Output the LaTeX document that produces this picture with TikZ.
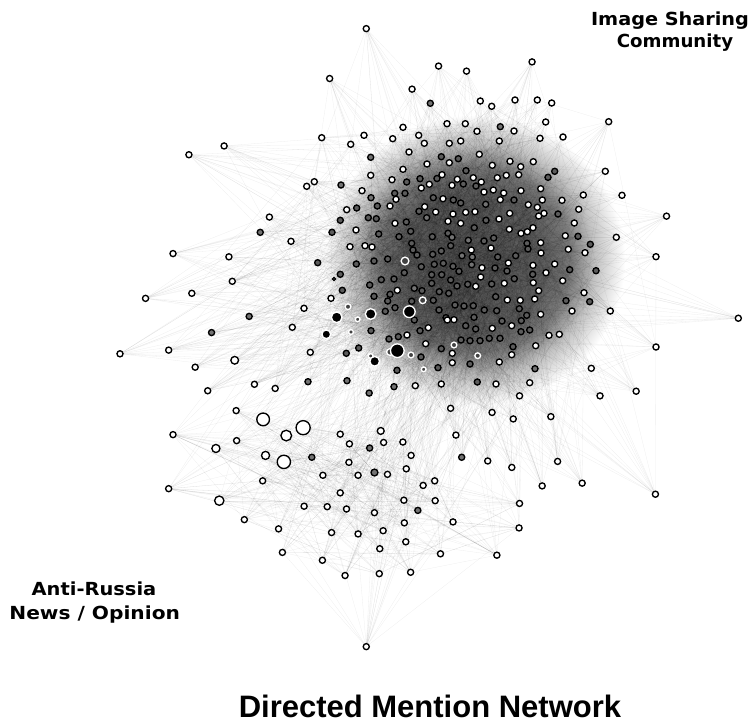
\documentclass[tikz,border=0pt]{standalone}
\usepackage{fontspec}
\newfontfamily\labfont{DejaVu Sans}
\newfontfamily\titfont{Liberation Sans}
\pgfdeclarelayer{shadelayer}
\pgfdeclarelayer{edgelayer}
\pgfsetlayers{shadelayer,edgelayer,main}
\definecolor{dfill}{gray}{0.36}
\definecolor{gfill}{gray}{0.45}
\definecolor{rfill}{gray}{0.26}
\pgfdeclareradialshading{coreshade}{\pgfpoint{0bp}{0bp}}{rgb(0bp)=(0.37,0.37,0.37); rgb(12bp)=(0.39,0.39,0.39); rgb(16bp)=(0.48,0.48,0.48); rgb(20bp)=(0.76,0.76,0.76); rgb(25bp)=(1,1,1); rgb(50bp)=(1,1,1)}
\tikzset{
 nd/.style={circle, inner sep=0pt, minimum size=6.1pt, line width=1.35pt, draw=black},
 W/.style={nd, fill=white},
 G/.style={nd, fill=gfill},
 D/.style={nd, fill=dfill},
 Ds/.style={nd, fill=black!80, minimum size=3.6pt, line width=0.8pt},
 W4/.style={W, minimum size=6.9pt},
 G4/.style={G, minimum size=6.9pt},
 R1/.style={nd, draw=white, fill=rfill, minimum size=4.7pt},
 R2/.style={nd, draw=white, fill=rfill, minimum size=5.7pt},
 R3/.style={nd, draw=white, fill=rfill, minimum size=6.7pt},
 R4/.style={nd, draw=white, fill=rfill, minimum size=7.7pt},
 B1/.style={nd, draw=white, fill=black, minimum size=8.7pt},
 B2/.style={nd, draw=white, fill=black, minimum size=9.7pt},
 B3/.style={nd, draw=white, fill=black, minimum size=10.7pt},
 B4/.style={nd, draw=white, fill=black, minimum size=11.7pt},
 B5/.style={nd, draw=white, fill=black, minimum size=13.7pt},
 L1/.style={W, minimum size=7.7pt},
 L2/.style={W, minimum size=8.1pt},
 L3/.style={W, minimum size=9.3pt},
 L4/.style={W, minimum size=10.7pt},
 L5/.style={W, minimum size=12.7pt},
 L6/.style={W, minimum size=13.3pt},
 L7/.style={W, minimum size=14.1pt},
 edge/.style={draw=black, line width=0.3pt, draw opacity=0.065},
 lab/.style={font=\labfont\bfseries\fontsize{18}{22}\selectfont, inner sep=0pt, anchor=base},
 ttl/.style={font=\titfont\bfseries\fontsize{31}{37}\selectfont, inner sep=0pt, anchor=base},
}
\begin{document}
\begin{tikzpicture}[x=1pt,y=-1pt]
\useasboundingbox (0,0) rectangle (756,725);
\begin{pgfonlayer}{shadelayer}
\fill[white] (0,0) rectangle (756,725);
\shade[shading=coreshade] (475,260) ellipse [x radius=150, y radius=145];
\end{pgfonlayer}
% main cluster nodes
\foreach \x/\y/\t [count=\i] in {
430.3/103.3/G,403/127.3/W,447/123.7/W,465.3/123.7/W,321.7/137.7/W,364/135.3/W,350.7/144.3/W,392.7/138.7/W,418.7/135.3/W,424.3/143.3/W,
449.3/143.3/W,460.7/141/W,409/152/W,370.7/157.3/G,427/164/W,441.3/156.7/D,449.3/162.7/W,458.3/158.7/D,403/169.3/W,370.7/175.3/W,
442/174.7/W,437/178.5/D,466/170.7/D,306.7/186.3/W,314.3/181.7/W,341/185/G,362/190.7/W,392/179.7/W,406.7/182/D,420/178.7/D,
421.3/188/W,429.3/184.3/W,457.3/179.3/W,452/185.3/W,463.3/184/D,371/197.7/G,394.7/193.3/D,405/193.3/D,396/199.3/W,433.3/197.7/D,
443/198.7/W,453.3/200/D,460.7/203/D,346.7/209.7/W,356.7/208/D,377.3/206/D,390/206/W,424.7/206.7/W,368.3/217.7/D,376.3/218.7/D,
340.3/220.3/D,419/211.3/D,426.7/217.7/G,435.7/212/W,453/214/W,465.7/212.3/W,395/223.3/W,406.3/222/D,448/221.3/W,460.7/223.3/W,
356/230/W,332/232.3/D,378.7/234/D,399/236.7/D,410.7/231.3/D,432.3/236.7/D,448/233.3/D,452/237.3/G,
480.3/101/W,491.7/106.3/W,515/100/W,537.3/100/W,551.7/103/W,477/131.3/W,500.3/126.7/G,514/131/W,545.7/122/W,608.7/121.7/W,
499.3/141/W,540/138.3/W,563/137/W,479.3/154.3/W,492.3/165.3/W,510/161.3/W,520.7/166.7/W,533.3/161.7/W,554.7/171.3/D,548/177.3/D,
605.3/171.3/W,622/195.3/W,473.3/177.7/W,481.3/182/W,476/186/D,497.3/177.7/W,506.3/175.3/W,518.7/174.7/W,493.3/190/W,484/192/W,
503.7/193/W,521/190.7/W,540.7/188.7/W,514/200/D,500.3/199.7/W,542.3/200/W,562/200.3/W,583.3/195/W,485.7/204.3/G,475/211.7/W,
509.7/213.3/W,528.3/204.7/W,537.3/207.3/W,538.7/216/W,544/213.3/W,558/214/D,578.7/209.3/W,499/219/W,486/220.3/D,474.3/227.7/D,
509.3/229.3/W,521/233.3/W,527.3/231.7/W,533/227.7/W,493.7/238/D,574.3/223/W,578/236.3/D,565.3/235.7/W,616.3/237.3/W,
291/241.3/W,411.7/243.3/D,350/246.7/W,365/245.7/W,372/247/W,468.3/240.3/G,317.7/262.7/D,356.3/264/D,374/261/D,387.7/259/D,
413/250/D,417/255/D,432.7/254.3/D,441.3/251/D,450.7/245.7/D,462/255.7/G,340.3/274.3/D,334/279/Ds,369.7/285/D,381.3/279.7/D,
394/279/D,404.3/272.7/D,414.3/288.3/G,397.3/290.3/W,390/294.3/D,374/296.3/D,342.3/290.3/D,331/298.3/W,304/308.3/W,292.3/327.3/W,
385.3/311.3/D,395/307.7/D,387.7/301/D,411.7/301.3/D,414.3/320/D,433.3/300.3/D,422/290.7/D,431.7/283.3/D,431.7/274.7/D,421.3/266.7/D,
434.3/264.3/D,443.3/263.3/D,453/266.3/D,459/271.3/D,441.7/274.7/D,450.7/280/D,439.3/291.7/D,448.7/293.3/D,457/286/D,467.7/284.3/D,
455/305/D,464/306/D,439/310/D,446/317.7/D,454/319.7/W,447.3/320/W,428.3/327.7/W,420/330.7/D,407/335/W,398.3/336.7/D,
389/339/D,371/330.7/D,358.7/348/D,310.3/352.3/W,346.3/353.3/D,397/370.3/D,421/357/D,425.7/343.7/W,441.3/348.7/D,461/340/D,
452.3/353.3/W,452.3/362.7/W,438/367.7/D,347/380.7/G,308/381.7/G,394/386.7/G,415.3/385.7/W,441.3/384/W,465.7/325.7/D,
471.3/250/W,491/248/W,484/241/D,527/243.3/D,540.7/242.7/W,541/253/W,528/249/D,515.7/255.7/D,497.7/257/D,508.3/263/W,
472.3/257/G,471.7/264.7/G,482/267.7/W,495/268/D,507/271/D,514.3/278.7/D,504.3/283.3/W,491.7/284/D,480.7/277/W,475.7/286.3/W,
533/265.3/W,532.7/274.3/D,533.3/282.7/W,546/272.7/W,554.7/264/W,590.3/244.3/D,568.3/249.3/W,585/252.7/W,656/256.7/W,569.7/269.7/D,
596/270.7/D,562.7/280.7/W,538.7/290.7/W,520.3/300.3/W,507.3/300/W,495.7/296.7/D,534.7/299/W,584/292.7/W,566/300.7/D,589.7/301.7/D,
572/311/W,610.3/311/W,540.7/314.3/W,526.7/315.3/D,519.3/308.7/D,521.3/320.7/D,511.7/325.7/W,502/321/D,496.7/310.7/D,484.3/310/D,
473.3/305.7/D,474/317.3/D,475.7/329/D,489.3/338.3/D,480/340.7/D,470/340.7/D,492.3/328.3/W,500/338.3/D,513/346.7/D,521/331.7/D,
529.7/330/D,549/335.3/W,559.3/334.3/W,535.7/345.7/W,511.7/354.7/W,499.3/362/W,470/364/D,535/368.7/G,591.3/368.3/W,656/347/W,
477.3/382/D,496/384/W,529.7/382.7/W,
405/261/R4,348/306.7/R2,357.7/319.3/R1,422.7/300.3/R3,351/332/R1,390/352/R3,370.7/356/R1,411/355/R2,423.7/369.3/R1,454/345/R2,477.7/355.7/R2,
336.7/317.3/B3,370.7/314/B3,409.3/311.7/B4,326.3/334.3/B1,397.3/350.7/B5,374.7/361.3/B2}
{\node[\t] (m\i) at (\x,\y) {}; \xdef\NM{\i}}
\begin{scope}[xscale=0.48193,yscale=0.46189]
% outer nodes of the main cluster
\foreach \x/\y/\t [count=\i] in {
760/62/W,910/143/W,968/154/W,1104/134/W,684/170/W,855/193/W,1383/468/W,1532/689/W,392/335/W,465/316/W,
559/470/W,540/503/G,359/549/W,475/556/W,482/609/W,302/646/W,398/635/W,517/685/G,439/720/G,249/766/W,
350/758/W,405/795/W,487/780/L1,431/846/W,528/832/W,571/841/W,1320/847/W,1245/857/W,1078/857/W,1143/902/W,
1157/999/W,1208/1046/W,1125/1052/W,1360/1070/W,1062/1012/W,1012/998/W,1065/907/W,1021/893/W,958/990/G,946/942/W,
935/884/W,766/851/G}
{\node[\t] (o\i) at (\x,\y) {}; \xdef\NO{\i}}
% lower-left community
\foreach \x/\y/\t [count=\i] in {
490/889/W,491/954/W,359/941/W,350/1058/W,507/1125/W,545/1041/W,578/1145/W,586/1196/W,631/1096/W,647/990/G,
670/1029/W,706/940/W,725/961/W,767/970/G,796/958/W,790/933/W4,836/957/W,853/986/W,724/1001/W,743/1029/W,
777/1023/G4,804/1027/W,843/1015/W,878/1051/W,902/1041/W,706/1067/W,679/1097/W,719/1102/W,777/1110/W,838/1083/W,
867/1105/G,903/1084/W,940/1130/W,839/1132/W,795/1149/W,743/1156/W,688/1153/W,842/1173/W,788/1188/W,669/1213/W,
716/1246/W,787/1242/W,852/1239/W,914/1199/W,1031/1202/W,1077/1143/W,1078/1090/W,760/1400/W,
551/986/L2,448/971/L2,455/1084/L3,594/943/L4,546/908/L5,589/1000/L6,629/926/L7}
{\node[\t] (l\i) at (\x,\y) {}; \xdef\NL{\i}}
\end{scope}
% connectors
\pgfmathsetseed{7}
\begin{pgfonlayer}{edgelayer}
\foreach \i in {1,...,\NM}{\foreach \k in {1,...,5}{\pgfmathrandominteger{\r}{1}{\NM}\draw[edge] (m\i) -- (m\r);}}
\foreach \i in {1,...,\NO}{\foreach \k in {1,...,14}{\pgfmathrandominteger{\r}{1}{\NM}\draw[edge] (o\i) -- (m\r);}}
\foreach \i in {1,...,\NL}{\foreach \k in {1,...,7}{\pgfmathrandominteger{\r}{1}{\NL}\draw[edge] (l\i) -- (l\r);}
 \foreach \k in {1,...,5}{\pgfmathrandominteger{\r}{1}{\NM}\draw[edge] (l\i) -- (m\r);}}
\end{pgfonlayer}
% labels
\node[lab] (lab1) at (670,25.5) {\scalebox{1.07}[1]{Image Sharing}};
\node[lab] (lab2) at (675,47.7) {\scalebox{1.01}[1]{Community}};
\node[lab] (lab3) at (94,595) {\scalebox{1.08}[1]{Anti-Russia}};
\node[lab] (lab4) at (94.7,619) {\scalebox{1.12}[1]{News / Opinion}};
\node[ttl] (title) at (430,717) {Directed Mention Network};
\end{tikzpicture}
\end{document}
